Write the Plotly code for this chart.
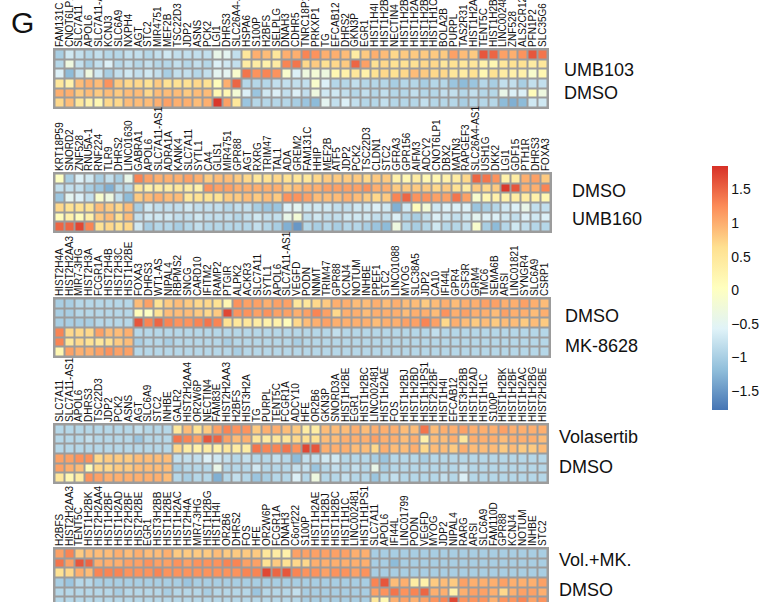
import plotly.graph_objects as go

W, H = 761, 602

# ---------------- data ----------------
genes_p1 = ["FAM131C", "CNOT6LP1", "SLC7A11", "APOL6", "SLC7A11-AS1", "KCNJ3", "SLC6A9", "NXPH4", "AGT", "STC2",
            "MIR4751", "MEF2B", "TSC22D3", "JDP2", "ASNS", "PCK2", "LGI1", "DHRS3", "SLC26A4-AS1", "HSPA6",
            "S100P", "H2BFS", "SELPLG", "DNAH3", "CDHR5", "TNRC18P1", "PRKXP1", "TG", "EFCAB12", "DHRS2",
            "GKN3P", "EGR1", "HIST1H4I", "HIST1H2B", "NECTIN4", "HIST1H2B", "HIST1H2A", "HIST1H2B", "HIST1H1C", "BOLA2B",
            "PURPL", "TAS2R31", "HIST1H2A", "TENT5C", "HIST1H2B", "LINC00248", "ZNF528", "ALS2CR12", "PFN1P2", "SLC35G6"]
rows_p1 = ["UMB103", "DMSO"]
vals_p1 = [
    [-1.0,-0.7,-0.8,-0.9,-0.8,-0.9,-0.9,-0.8,-0.8,-0.9, -0.8,-0.7,-0.8,-0.8,-0.8,-0.8,-0.4,-0.5,-0.8,0.5,
     1.0,0.9,0.5,1.0,1.0,1.3,1.2,1.0,1.0,0.9, 0.4,0.8,1.0,0.9,0.7,0.8,0.8,0.8,0.8,0.8, 1.1,0.9,0.8,1.6,1.5,1.1,1.0,1.2,1.6,1.4],
    [-0.9,-0.3,-0.8,-1.0,-0.8,-0.6,-0.9,-0.8,-0.9,-0.8, -0.9,-0.9,-0.8,-0.9,-0.8,-0.9,-0.6,-0.7,-0.8,0.4,
     0.4,0.3,0.4,1.3,1.4,0.7,0.8,0.6,0.7,0.8, 1.5,1.1,0.6,0.7,0.6,0.6,0.6,0.7,0.7,0.5, 0.6,0.5,0.5,0.3,0.2,0.5,0.6,0.6,0.4,0.5],
    [-0.6,-1.2,-0.8,-0.3,-0.7,-1.0,-0.8,-0.7,-0.8,-0.7, -0.8,-1.0,-0.8,-0.8,-0.9,-0.8,-0.5,-0.5,-0.1,1.4,
     1.2,1.3,1.2,-0.1,-0.6,-0.3,-0.2,-0.3,0.2,0.3, 0.5,0.3,0.6,0.7,0.6,0.7,0.9,0.8,0.7,0.7, 0.5,0.4,0.6,0.2,0.6,0.4,0.3,0.3,-0.1,0.2],
    [0.5,0.3,0.9,1.0,0.9,1.2,0.8,0.7,0.7,0.6, 0.8,0.6,0.6,0.6,0.7,0.6,0.1,1.0,1.5,-0.9,
     -0.9,-0.9,-0.8,-0.8,-0.8,-0.8,-0.1,-0.6,-0.9,-0.9, -0.8,-0.9,-0.9,-0.9,-1.0,-0.9,-0.9,-1.0,-0.9,-0.9, -1.1,-1.2,-1.1,-0.9,-1.0,-0.8,-0.8,-1.0,-0.8,-0.8],
    [1.0,1.0,0.8,0.9,0.8,0.9,0.8,0.9,0.9,0.7, 0.9,0.9,0.9,0.8,0.9,0.9,0.2,0.2,-0.2,-0.6,
     -1.1,-0.7,-0.6,-0.8,-0.6,-0.8,-0.3,-0.7,-0.7,-0.8, -0.9,-0.8,-0.9,-0.8,-0.9,-0.9,-0.8,-0.9,-0.9,-0.8, -0.8,-0.9,-0.8,-0.9,-0.9,-0.4,-0.6,-0.6,0.1,-0.3],
    [0.7,0.9,0.5,0.3,0.2,0.7,0.7,0.9,0.9,0.9, 1.0,1.1,1.0,1.0,0.9,1.0,1.8,1.1,0.5,-1.1,
     -0.9,-0.9,-0.9,-0.9,-1.0,-1.1,-1.2,-0.5,-0.8,-0.6, -0.8,-0.9,-0.9,-0.8,-0.9,-0.9,-0.9,-0.8,-0.9,-0.9, -0.9,-1.0,-0.9,-0.9,-0.9,-1.2,-1.3,-1.2,-0.7,-0.7],
]

genes_p2 = ["KRT18P59", "SNORD2", "ZNF528", "RNU5A-1", "RNF224", "TLR9", "DHRS2", "LINC01630", "GABRA1", "APOL6",
            "SLC7A11-AS1", "ADRA1A", "KANK4", "SLC7A11", "SYTL1", "CA4", "GLIS1", "MIR4751", "GPR88", "AGT",
            "RXRG", "TRIM47", "TAL1", "ADA", "GREM2", "FAM131C", "HHIP", "MEF2B", "ATF5", "JDP2",
            "PCK2", "TSC22D3", "CLDN1", "STC2", "GFRA3", "GPR156", "AIFM3", "ADCY2", "CNOT6LP1", "DBX2",
            "MATN3", "RAPGEF3", "SLC26A4-AS1", "USH1G", "DKK2", "LGI1", "GDF15", "PTH1R", "DHRS3", "FOXA3"]
rows_p2 = ["DMSO", "UMB160"]
vals_p2 = [
    [0.0,-1.0,-0.6,-0.7,-1.0,-0.8,-1.0,-0.4,1.3,1.1, 1.0,1.0,1.0,1.1,1.0,0.8,0.9,0.9,0.8,0.7,
     0.5,0.6,0.7,0.6,0.5,0.5,0.7,0.8,0.8,0.8, 0.8,0.7,0.8,0.8,0.3,0.2,0.4,0.2,0.2,0.3, 0.4,0.7,1.5,1.4,1.2,0.3,0.4,1.0,1.1,0.8],
    [-0.8,-0.8,-0.8,-1.0,-1.1,-1.3,-0.9,-0.9,0.5,0.3, 0.4,0.4,0.5,0.4,0.3,1.2,1.1,1.1,1.0,1.0,
     1.0,1.0,1.0,0.8,0.9,1.0,1.0,1.1,1.1,1.1, 1.1,1.2,1.0,1.0,0.8,0.8,0.8,0.8,0.7,0.8, 0.6,0.4,0.8,0.7,0.8,1.8,1.6,1.0,1.0,1.3],
    [-1.1,-0.5,-0.6,-0.8,-0.1,-0.3,-0.8,-1.2,0.8,0.9, 1.0,0.9,0.9,0.5,0.6,0.6,0.6,0.8,0.8,0.9,
     0.8,0.9,0.8,1.2,1.2,1.1,0.9,0.9,0.9,1.0, 0.9,0.8,0.7,0.8,1.3,1.5,1.2,1.2,1.1,1.1, 1.4,1.1,-0.1,0.2,0.3,0.3,0.4,0.4,0.3,0.2],
    [0.7,0.6,0.6,0.6,0.9,0.8,0.7,0.9,-1.0,-0.7, -0.8,-0.8,-0.8,-0.7,-0.8,-0.8,-0.8,-0.9,-0.8,-0.8,
     -1.0,-1.1,-1.1,-0.6,-0.5,-0.7,-0.7,-0.7,-0.8,-0.8, -0.7,-0.7,-0.6,-0.7,-1.3,-0.7,0.1,-0.2,-0.7,-0.6, -0.6,-0.6,-1.1,-1.0,-0.9,-0.7,-0.6,-0.4,-0.8,-0.8],
    [0.1,0.3,0.1,0.3,0.8,0.9,0.6,0.9,-0.8,-0.7, -0.7,-0.7,-0.8,-0.8,-0.7,-0.8,-0.8,-0.8,-0.9,-0.8,
     -0.7,-0.8,-0.8,-0.4,-0.2,-0.8,-0.7,-0.8,-0.8,-0.7, -0.7,-0.7,-0.8,-0.8,-0.6,-0.9,-1.0,-0.8,-0.6,-0.7, -0.8,-0.7,-0.5,-0.6,-0.6,-0.7,-0.8,-0.6,-0.7,-0.6],
    [1.5,1.5,1.7,1.3,0.6,0.7,0.6,0.7,-0.7,-1.0, -0.9,-0.9,-1.0,-0.9,-0.8,-0.9,-0.9,-0.9,-0.9,-0.9,
     -0.8,-0.9,-1.0,-1.3,-1.5,-0.9,-1.0,-0.9,-1.0,-0.9, -0.9,-1.0,-1.1,-1.2,-0.3,-0.9,-1.0,-0.9,-0.7,-0.9, -0.9,-0.8,-0.1,-1.0,-1.2,-0.9,-0.7,-0.8,-0.9,-0.9],
]

genes_p3 = ["HIST2H4A", "HIST2H2AA3", "MIR7-3HG", "HIST2H3A", "FCGR1A", "HIST2H4B", "HIST2H3C", "HIST1H2BE", "FOXA3", "DHRS3",
            "WT1-AS", "NIPAL4", "RBPMS2", "SNCG", "CARD10", "IFITM2", "RAMP2", "PTGIR", "ALPK2", "ACKR3",
            "SLC7A11", "SYTL1", "APOL6", "SLC7A11-AS1", "VEGFD", "PODN", "NNMT", "TRIM47", "GPR88", "KCNJ4",
            "NOTUM", "INHBE", "PPEF1", "STC2", "LINC01088", "MYOG", "SLC38A5", "JDP2", "CA10", "IFI44L",
            "GPR4", "CSF3R", "GRM4", "TMC6", "SEMA6B", "ARSI", "LINC01821", "SYNGR4", "SLC6A9", "CSRP1"]
rows_p3 = ["DMSO", "MK-8628"]
vals_p3 = [
    [-1.0,-1.0,-0.9,-0.9,-0.9,-0.9,-0.9,-0.9,0.9,1.1, 0.6,0.8,0.9,0.8,0.7,0.7,0.6,0.2,1.2,1.1,
     1.1,1.0,1.1,1.1,0.5,0.5,0.7,0.8,1.0,1.0, 0.9,0.9,1.0,0.9,1.0,0.9,0.9,0.8,0.9,1.0, 0.9,1.0,1.0,1.1,1.1,1.0,1.0,1.1,1.0,0.9],
    [-1.0,-1.0,-0.9,-0.9,-0.9,-0.9,-0.9,-0.9,0.1,0.0, 0.6,0.9,0.9,0.9,0.8,0.7,0.8,1.7,1.2,1.2,
     1.1,1.2,1.1,1.1,1.0,1.1,1.3,1.1,0.7,1.0, 1.0,0.9,1.0,1.0,1.0,0.9,1.0,1.0,0.9,1.2, 1.0,1.1,1.0,1.0,0.9,1.1,1.0,1.0,0.9,1.0],
    [-1.0,-1.0,-1.0,-1.0,-0.9,-0.9,-0.9,-0.9,1.6,1.3, 1.5,1.3,1.2,1.2,1.3,1.4,1.3,0.6,0.5,0.5,
     0.4,0.3,0.3,0.1,0.7,0.9,1.0,1.1,1.0,1.0, 1.0,1.0,0.9,1.0,1.0,1.1,1.1,1.3,1.1,0.7, 1.0,0.9,0.8,0.9,0.8,0.9,0.9,0.8,0.9,0.8],
    [1.3,0.7,0.7,0.7,1.1,0.9,0.9,1.0,-0.9,-0.9, -0.9,-0.9,-0.9,-0.9,-0.9,-0.9,-0.9,-0.9,-0.9,-0.9,
     -0.9,-0.9,-0.9,-0.9,-0.9,-0.9,-0.9,-0.9,-0.8,-0.9, -0.9,-0.9,-0.9,-0.9,-0.9,-0.9,-0.9,-0.9,-0.8,-0.9, -0.9,-0.9,-0.9,-0.9,-0.9,-0.9,-0.9,-0.9,-0.9,-0.9],
    [1.3,0.5,0.7,0.6,0.5,0.6,0.8,0.9,-1.0,-0.9, -0.9,-1.0,-0.9,-0.9,-0.9,-0.9,-0.9,-1.0,-0.9,-0.9,
     -0.9,-0.9,-0.9,-0.9,-1.0,-0.9,-0.9,-0.9,-0.9,-0.9, -0.9,-0.9,-0.9,-0.9,-0.9,-0.9,-0.9,-0.9,-0.9,-0.9, -0.9,-0.9,-0.9,-0.9,-0.9,-0.9,-0.9,-0.9,-0.9,-0.9],
    [0.2,1.1,1.0,1.0,1.1,1.2,1.1,1.1,-0.9,-0.9, -0.9,-0.9,-0.9,-0.9,-0.9,-0.9,-0.9,-0.9,-1.0,-0.9,
     -0.9,-0.9,-0.9,-0.9,-0.9,-0.9,-0.9,-0.9,-0.9,-0.9, -0.9,-0.9,-0.9,-0.9,-0.9,-0.9,-0.9,-0.9,-0.9,-0.9, -0.9,-0.9,-0.9,-0.9,-0.9,-0.9,-0.9,-0.9,-0.9,-0.9],
]

genes_p4 = ["SLC7A11", "SLC7A11-AS1", "APOL6", "DHRS3", "TSC22D3", "JDP2", "PCK2", "ASNS", "AGT", "SLC6A9",
            "STC2", "INHBE", "GALR2", "HIST2H2AA4", "OR2W6P", "NECTIN4", "FAM83E", "HIST2H2AA3", "H2BFS", "HIST3H2A",
            "TG", "PURPL", "TENT5C", "FCGR1A", "ADCY10", "HFE", "OR2B6", "GKN3P", "SNORD3A", "HIST1H2BE",
            "EGR1", "HIST1H2BC", "LINC002481", "HIST1H2AE", "FOS", "HIST1H2BJ", "HIST1H2BD", "HIST1H1PS1", "HIST2H2BF", "HIST1H4I",
            "EFCAB12", "HIST3H2BB", "HIST1H2AD", "HIST1H1C", "S100P", "HIST1H2BK", "HIST1H2BF", "HIST1H2AC", "HIST1H2BG", "HIST2H2BE"]
rows_p4 = ["Volasertib", "DMSO"]
vals_p4 = [
    [-0.9,-0.9,-0.9,-0.9,-0.9,-0.9,-0.9,-0.9,-0.8,-0.9, -0.9,-0.9,0.5,0.9,0.6,0.8,1.1,1.3,1.2,1.2,
     0.8,1.0,1.0,0.9,0.8,0.4,0.4,0.9,0.9,0.9, 1.0,0.9,1.0,1.0,1.0,0.9,0.9,1.4,0.9,1.0, 1.0,1.1,1.0,1.0,1.0,1.1,1.0,1.0,1.0,1.0],
    [-0.9,-0.9,-0.9,-0.8,-0.9,-0.9,-0.9,-0.9,-1.1,-0.9, -0.9,-0.9,1.4,1.3,1.1,1.6,1.5,1.1,0.9,1.0,
     0.5,0.4,0.5,0.5,0.7,0.6,0.6,0.9,0.9,1.0, 1.0,1.0,1.1,1.0,1.0,0.9,1.0,0.3,0.9,0.9, 1.0,0.5,1.0,1.0,1.0,0.9,1.0,1.0,1.0,0.9],
    [-0.9,-0.9,-0.9,-0.9,-0.9,-0.9,-0.9,-0.9,-0.9,-0.9, -0.9,-0.9,0.7,0.4,0.3,0.4,0.3,0.5,0.4,0.4,
     1.4,1.3,1.3,1.4,1.2,1.7,1.6,1.0,1.0,1.0, 0.9,0.9,0.7,1.0,0.9,0.9,1.0,0.7,0.9,0.9, 0.8,1.0,0.9,0.9,0.9,0.8,0.9,0.8,0.8,0.9],
    [1.1,1.1,1.2,1.2,0.7,0.8,0.8,0.8,0.9,0.9, 0.9,0.9,-0.8,-0.8,-0.8,-0.6,-0.7,-0.8,-0.9,-0.8,
     -0.9,-0.9,-0.8,-0.9,-1.2,-0.8,-0.8,-0.7,-0.7,-0.9, -0.9,-0.9,-1.0,-1.1,-0.9,-0.9,-0.9,-1.0,-0.9,-0.9, -0.9,-0.9,-0.9,-0.9,-0.9,-0.9,-0.9,-0.9,-0.9,-0.9],
    [1.1,1.0,0.9,0.1,0.7,0.7,0.8,0.8,0.9,0.9, 0.9,0.9,-1.0,-0.9,-0.9,-0.9,-0.4,-0.9,-0.9,-0.9,
     -0.7,-0.9,-0.9,-0.9,-0.8,-0.8,-1.1,-0.9,-0.8,-0.9, -0.8,-0.9,-0.4,-1.0,-0.9,-0.9,-0.9,-0.9,-0.9,-0.9, -0.9,-0.8,-0.9,-0.9,-0.9,-0.9,-0.9,-0.9,-0.9,-0.9],
    [0.5,0.2,0.4,1.2,1.1,1.0,1.0,1.0,1.0,1.0, 1.0,0.9,-0.9,-1.0,-0.9,-0.9,-1.3,-0.9,-0.8,-0.9,
     -1.1,-1.0,-0.9,-0.9,-0.6,-0.9,-0.3,-0.9,-0.9,-0.8, -0.9,-0.9,-1.1,-0.9,-0.8,-0.9,-0.9,-0.9,-0.9,-0.8, -0.9,-0.6,-0.9,-0.9,-0.9,-0.9,-0.9,-0.9,-0.9,-0.9],
]

genes_p5 = ["H2BFS", "HIST2H2AA3", "TENT5C", "HIST1H2BK", "HIST2H2AA4", "HIST1H2BF", "HIST1H2AD", "HIST2H2BF", "HIST2H2BE", "EGR1",
            "HIST3H2BB", "HIST1H2BE", "HIST1H2AC", "HIST2H4A", "MIR7-3HG", "HIST1H2BG", "HIST1H4I", "OR2B6", "DHRS2", "FOS",
            "HFE", "OR2W6P", "FCGR1A", "DNAH3", "C6orf222", "S100P", "HIST1H2AE", "HIST1H2BJ", "HIST1H2BC", "HIST1H1C",
            "LINC002481", "HIST1H1PS1", "SLC7A11", "APOL6", "IFI44L", "LINC01799", "PODN", "VEGFD", "MYOG", "JDP2",
            "NIPAL4", "RARG", "ARSI", "SLC6A9", "FAM110D", "GPR88", "KCNJ4", "NOTUM", "INHBE", "STC2"]
rows_p5 = ["Vol.+MK.", "DMSO"]
vals_p5 = [
    [1.1,1.3,0.8,0.9,0.9,0.9,1.0,0.9,1.0,0.9, 0.9,1.0,0.8,0.8,0.8,0.8,0.9,0.8,0.8,0.8,
     0.8,0.5,0.4,0.3,1.1,1.1,1.1,1.1,1.1,1.1, 1.0,1.0,-1.0,-1.0,-1.0,-1.0,-1.0,-1.0,-1.0,-1.0, -1.0,-1.0,-1.0,-1.0,-1.0,-1.0,-1.0,-1.0,-1.0,-1.0],
    [1.4,1.1,1.6,1.5,1.0,1.0,1.0,1.1,1.1,1.2, 1.1,1.1,1.2,1.1,1.2,1.2,1.2,1.3,1.3,1.1,
     1.1,0.6,0.8,0.6,0.7,0.7,1.0,1.0,1.0,1.0, 1.0,1.0,-1.0,-1.0,-1.2,-1.0,-1.0,-1.0,-1.0,-1.0, -1.0,-1.0,-1.0,-1.0,-1.0,-1.0,-1.0,-1.0,-1.0,-1.0],
    [0.6,0.7,1.0,0.9,1.3,1.3,1.3,1.2,1.2,1.2, 1.3,1.2,1.2,1.2,1.2,1.2,1.2,1.2,1.2,1.3,
     1.3,1.7,1.5,1.6,1.3,1.2,1.2,1.1,1.2,1.2, 1.1,1.2,-1.0,-1.0,-1.0,-1.0,-1.0,-1.0,-1.0,-1.0, -1.0,-1.0,-1.0,-1.0,-1.0,-1.0,-1.0,-1.0,-1.0,-1.0],
    [-1.0,-1.1,-0.9,-0.9,-1.0,-1.0,-1.0,-1.0,-1.0,-1.0, -1.0,-1.0,-1.0,-1.1,-1.0,-1.0,-1.0,-1.0,-1.0,-1.0,
     -1.0,-1.0,-1.0,-1.0,-1.0,-1.0,-1.0,-1.0,-1.0,-1.0, -1.0,-1.0,1.3,1.6,0.9,1.0,0.4,0.3,0.8,0.9, 0.8,1.1,1.0,1.0,1.0,1.1,1.0,1.0,1.0,1.1],
    [-0.9,-0.9,-0.9,-0.9,-0.9,-0.9,-1.0,-0.9,-0.9,-0.9, -0.9,-1.0,-0.9,-0.9,-0.9,-1.0,-0.9,-0.9,-0.9,-0.9,
     -1.1,-0.9,-0.9,-0.9,-0.8,-1.0,-1.0,-1.0,-1.0,-1.0, -1.0,-1.0,1.1,1.2,1.4,1.2,1.3,1.5,1.0,1.0, 0.3,1.0,1.1,1.1,1.0,0.7,1.0,1.1,1.1,1.0],
    [-0.9,-0.9,-0.9,-0.9,-0.9,-0.9,-0.9,-0.9,-0.9,-0.9, -0.9,-0.9,-0.9,-0.9,-0.9,-0.9,-0.9,-0.9,-0.9,-0.9,
     -0.9,-0.9,-0.9,-0.9,-0.9,-1.0,-1.0,-1.0,-1.0,-1.0, -1.0,-1.0,0.5,0.2,1.0,1.1,1.0,1.1,1.2,1.3, 1.7,1.2,1.2,1.2,1.0,1.2,1.2,1.3,1.1,1.2],
]

colorbar_ticks = [-1.5, -1, -0.5, 0, 0.5, 1, 1.5]
panel_label = "G"

# ---------------- layout helpers ----------------
panels = [
    # genes, values, row labels, (x0,x1,y0,y1) px, label px positions
    (genes_p1, vals_p1, rows_p1, (53, 549, 48, 109), [(562, 70), (562, 93)]),
    (genes_p2, vals_p2, rows_p2, (53, 552, 172, 233), [(570, 191), (570, 219)]),
    (genes_p3, vals_p3, rows_p3, (53, 551, 297, 358), [(563, 316), (563, 346)]),
    (genes_p4, vals_p4, rows_p4, (53, 549, 423, 484), [(557, 437), (557, 467)]),
    (genes_p5, vals_p5, rows_p5, (53, 549, 547, 602), [(557, 560), (557, 590)]),
]

colorscale = [[0.0, "#4575B4"], [1/6, "#91BFDB"], [2/6, "#E0F3F8"], [3/6, "#FFFFBF"],
              [4/6, "#FEE090"], [5/6, "#FC8D59"], [1.0, "#D73027"]]

fig = go.Figure()
annotations = []
tick_font = dict(family="Liberation Sans Narrow, Arial Narrow, Liberation Sans, Arial", size=10, color="#111111")
row_font = dict(family="Liberation Sans, Arial, sans-serif", size=18, color="#111111")

ROW_PX = 61 / 6.3
for i, (genes, vals, rlabels, (x0, x1, y0, y1), lpos) in enumerate(panels, start=1):
    assert all(len(r) == len(genes) == 50 for r in vals), i
    xa = "x" if i == 1 else f"x{i}"
    ya = "y" if i == 1 else f"y{i}"
    fig.add_trace(go.Heatmap(
        z=vals, x=list(range(len(genes))), y=list(range(len(vals))),
        coloraxis="coloraxis", xgap=2, ygap=2, xaxis=xa, yaxis=ya,
        hovertemplate="%{customdata}<br>%{z}<extra></extra>",
        customdata=[genes] * len(vals),
    ))
    ymax_row = -0.65 + (y1 - y0) / ROW_PX
    xkey = "xaxis" if i == 1 else f"xaxis{i}"
    ykey = "yaxis" if i == 1 else f"yaxis{i}"
    fig.update_layout(**{
        xkey: dict(domain=[x0 / W, x1 / W], anchor=ya, side="top", automargin=False,
                   tickmode="array", tickvals=list(range(len(genes))), ticktext=genes,
                   tickangle=-90, tickfont=tick_font, ticks="", range=[-0.65, len(genes) - 0.35],
                   showgrid=False, zeroline=False, showline=False, fixedrange=True),
        ykey: dict(domain=[max(0, 1 - y1 / H), 1 - y0 / H], anchor=xa, automargin=False,
                   range=[ymax_row, -0.65], showticklabels=False, ticks="",
                   showgrid=False, zeroline=False, showline=False, fixedrange=True),
    })
    for txt, (lx, ly) in zip(rlabels, lpos):
        annotations.append(dict(text=txt, x=lx / W, y=1 - ly / H, xref="paper", yref="paper",
                                xanchor="left", yanchor="middle", showarrow=False, font=row_font))

annotations.append(dict(text=panel_label, x=22 / W, y=1 - 22 / H, xref="paper", yref="paper",
                        xanchor="center", yanchor="middle", showarrow=False,
                        font=dict(family="Liberation Sans, Arial", size=30, color="#111111")))

fig.update_layout(
    width=W, height=H, autosize=False,
    margin=dict(l=0, r=0, t=0, b=0, pad=0),
    paper_bgcolor="white", plot_bgcolor="#9c9c9c",
    font=dict(family="Liberation Sans, Arial, sans-serif", color="#111111"),
    coloraxis=dict(
        colorscale=colorscale, cmin=-1.78, cmax=1.85,
        colorbar=dict(x=712 / W, xanchor="left", y=1 - 288 / H, yanchor="middle",
                      xpad=0, ypad=0,
                      len=244 / H, lenmode="fraction", thickness=16, outlinewidth=0,
                      tickmode="array", tickvals=colorbar_ticks, ticks="",
                      tickfont=dict(family="Liberation Sans, Arial", size=14, color="#111111")),
    ),
    annotations=annotations,
    showlegend=False,
)

fig.write_html("out.html", config={"displayModeBar": False},
               post_script="document.body.style.margin='0px';document.body.style.overflow='hidden';")
